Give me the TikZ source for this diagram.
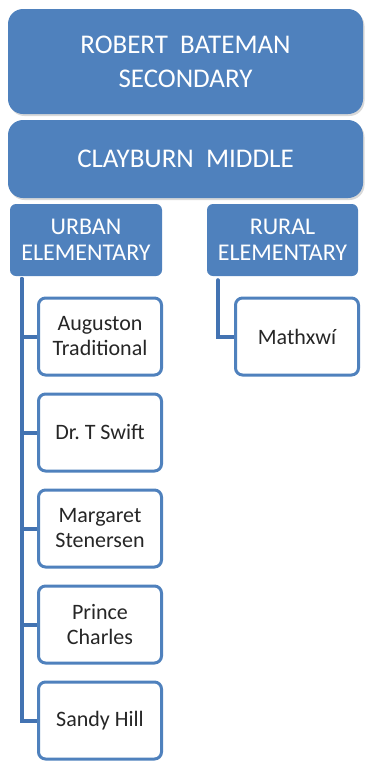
\documentclass[tikz,border=0pt]{standalone}
\usepackage{fontspec}
\setmainfont{Carlito}
\usepackage{xcolor}
\usepackage{tikz}
\usetikzlibrary{positioning,shadows,calc,backgrounds}
\definecolor{boxblue}{HTML}{4F81BD}
\definecolor{linkblue}{HTML}{4373B2}
\definecolor{schooltext}{HTML}{262626}

\begin{document}
\begin{tikzpicture}[x=1pt,y=-1pt,
		topbox/.style={fill=boxblue, text=white, rounded corners=15pt, minimum width=355pt, inner sep=0pt, align=center,
		drop shadow={opacity=0.3, shadow xshift=1.5pt, shadow yshift=-2pt}, font=\fontsize{27}{34}\selectfont},
		elembox/.style={fill=boxblue, text=white, rounded corners=6pt, minimum width=152pt, minimum height=72pt,
		inner sep=0pt, align=center, font=\fontsize{24}{26}\selectfont},
		schoolbox/.style={draw=boxblue, line width=3pt, fill=white, text=schooltext, rounded corners=7pt,
		minimum width=123pt, minimum height=77pt, inner sep=0pt, align=center, font=\fontsize{22}{25}\selectfont},
		branch/.style={draw=linkblue, line width=4pt, line cap=round}]
		\useasboundingbox (0,0) rectangle (366,761);
		\node[topbox, minimum height=105pt] (bateman) at (185.5,61.5) {ROBERT\ \ BATEMAN\\SECONDARY};
		\node[topbox, minimum height=78pt] (clayburn) at (185.5,159) {CLAYBURN\ \ MIDDLE};
		\node[elembox] (urban) at (86,240) {URBAN\\ELEMENTARY};
		\node[elembox, minimum width=151pt] (rural) at (282.5,240) {RURAL\\ELEMENTARY};
		\node[schoolbox] (aug) at (100,336.5) {Auguston\\Traditional};
		\node[schoolbox, below=16pt of aug] (swift) {Dr.\ T Swift};
		\node[schoolbox, below=16pt of swift] (marg) {Margaret\\Stenersen};
		\node[schoolbox, below=16pt of marg] (prince) {Prince\\Charles};
		\node[schoolbox, below=16pt of prince] (sandy) {Sandy Hill};
		\node[schoolbox] (mathx) at (297,336.5) {Mathxwí};
		\begin{scope}[on background layer]
			\foreach \s in {aug,swift,marg,prince,sandy}
				\draw[branch] ([xshift=12pt,yshift=-3pt]urban.south west) |- (\s.west);
			\draw[branch] ([xshift=11pt,yshift=-4pt]rural.south west) |- (mathx.west);
		\end{scope}
	\end{tikzpicture}
\end{document}
